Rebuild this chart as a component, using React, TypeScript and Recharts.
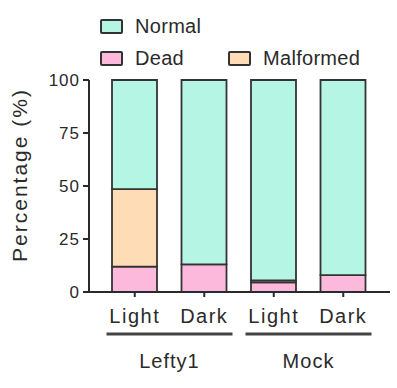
import { BarChart, Bar, XAxis, YAxis } from "recharts";

const conditions = ["Light", "Dark", "Light", "Dark"];
const groups = ["Lefty1", "Lefty1", "Mock", "Mock"];
const dead = [12, 13, 4.5, 8];
const malformed = [36.5, 0, 1, 0];
const normal = [51.5, 87, 94.5, 92];
const yTicks = [0, 25, 50, 75, 100];

const data = conditions.map((c, i) => ({
  condition: c,
  group: groups[i],
  dead: dead[i],
  malformed: malformed[i],
  normal: normal[i],
}));

const FONT = "'Liberation Sans', Arial, sans-serif";
const INK = "#2a2a2a";
const COLORS = { normal: "#b4f5e4", dead: "#fdb9dc", malformed: "#fddcb6" };

function ConditionTick(props: any) {
  const { x, y, payload } = props;
  return (
    <text x={x} y={y + 26} textAnchor="middle" fontFamily={FONT} fontSize={20} letterSpacing={1.5} fill={INK}>
      {payload.value}
    </text>
  );
}

function GroupTick(props: any) {
  const { x, y, payload } = props;
  return (
    <g>
      <line x1={x - 63} x2={x + 63} y1={y + 2} y2={y + 2} stroke="#444" strokeWidth={3} />
      <text x={x} y={y + 36} textAnchor="middle" fontFamily={FONT} fontSize={20} letterSpacing={1} fill={INK}>
        {payload.value}
      </text>
    </g>
  );
}

function YLabel(props: any) {
  const { viewBox } = props;
  const cy = viewBox.y + viewBox.height / 2 - 11;
  return (
    <text
      x={27}
      y={cy}
      transform={`rotate(-90 27 ${cy})`}
      textAnchor="middle"
      fontFamily={FONT}
      fontSize={21}
      letterSpacing={2}
      fill={INK}
    >
      Percentage (%)
    </text>
  );
}

function LegendItem({ color, label, left, top }: { color: string; label: string; left: number; top: number }) {
  return (
    <div style={{ position: "absolute", left, top, display: "flex", alignItems: "center" }}>
      <div
        style={{
          width: 19,
          height: 11,
          background: color,
          border: "2px solid #333",
          borderRadius: 2,
          marginRight: 12,
        }}
      />
      <span style={{ fontFamily: FONT, fontSize: 20, color: INK, letterSpacing: 0.3 }}>{label}</span>
    </div>
  );
}

export default function App() {
  return (
    <div style={{ position: "relative", width: 397, height: 388, background: "#fff" }}>
      <style>{"body{margin:0}"}</style>
      <LegendItem color={COLORS.normal} label="Normal" left={100} top={15} />
      <LegendItem color={COLORS.dead} label="Dead" left={100} top={47} />
      <LegendItem color={COLORS.malformed} label="Malformed" left={228} top={47} />
      <div style={{ position: "absolute", left: 0, top: 0 }}>
        <BarChart width={397} height={388} data={data} margin={{ top: 80, right: 7, bottom: 6, left: 0 }} barSize={45}>
          <YAxis
            width={89}
            domain={[0, 100]}
            ticks={yTicks}
            tickSize={6}
            tickMargin={3}
            axisLine={{ stroke: INK, strokeWidth: 2 }}
            tickLine={{ stroke: INK, strokeWidth: 2 }}
            tick={{ fontFamily: FONT, fontSize: 17, fill: INK, letterSpacing: 1 }}
            label={<YLabel />}
          />
          <XAxis
            dataKey="condition"
            xAxisId={0}
            height={40}
            padding={{ left: 11, right: 12 }}
            tickSize={5}
            tickMargin={0}
            axisLine={{ stroke: INK, strokeWidth: 2 }}
            tickLine={{ stroke: INK, strokeWidth: 2 }}
            tick={<ConditionTick />}
            interval={0}
          />
          <XAxis
            dataKey="group"
            xAxisId="group"
            allowDuplicatedCategory={false}
            height={50}
            padding={{ left: 11, right: 12 }}
            axisLine={false}
            tickLine={false}
            tickSize={0}
            tickMargin={0}
            tick={<GroupTick />}
            interval={0}
          />
          <Bar dataKey="dead" stackId="a" fill={COLORS.dead} stroke="#333" strokeWidth={1.8} isAnimationActive={false} />
          <Bar dataKey="malformed" stackId="a" fill={COLORS.malformed} stroke="#333" strokeWidth={1.8} isAnimationActive={false} />
          <Bar dataKey="normal" stackId="a" fill={COLORS.normal} stroke="#333" strokeWidth={1.8} isAnimationActive={false} />
        </BarChart>
      </div>
    </div>
  );
}
